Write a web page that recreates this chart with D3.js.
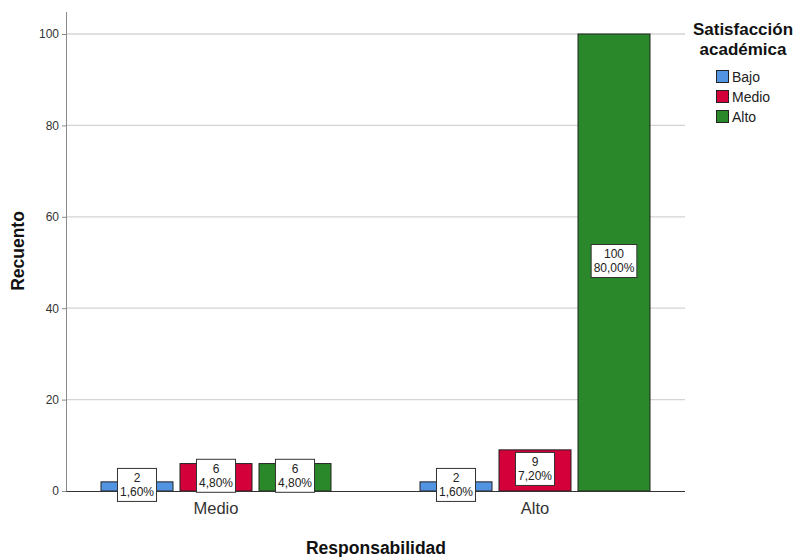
<!DOCTYPE html>
<html><head><meta charset="utf-8">
<script src="https://cdn.jsdelivr.net/npm/d3@7"></script>
<style>body{margin:0;background:#fff}svg{display:block}</style>
</head><body>
<svg id="c" width="798" height="557"></svg>
<script>
const categories = ["Medio", "Alto"];
const series = ["Bajo", "Medio", "Alto"];
const counts = {
  Bajo:  [2, 2],
  Medio: [6, 9],
  Alto:  [6, 100]
};
const percents = {
  Bajo:  ["1,60%", "1,60%"],
  Medio: ["4,80%", "7,20%"],
  Alto:  ["4,80%", "80,00%"]
};
const yTicks = [0, 20, 40, 60, 80, 100];
const colors = ["#5294e2", "#d3003a", "#2a882a"];

(function(){
const svg = d3.select("#c");
const font = "'Liberation Sans', Arial, sans-serif";
const pL = 67, pR = 685, pT = 34, pB = 491;

const y = d3.scaleLinear().domain([0, 100]).range([pB, pT]);
const x0 = d3.scaleBand().domain(categories).range([56.5, 694.5]).padding(0);
const x1 = d3.scaleBand().domain(series).range([-118.5, 118.5]).paddingInner(7/79).paddingOuter(0.0443);
const color = d3.scaleOrdinal().domain(series).range(colors);

// gridlines
svg.append("g").selectAll("line").data(yTicks.filter(d => d > 0)).join("line")
  .attr("x1", pL).attr("x2", pR)
  .attr("y1", d => y(d)).attr("y2", d => y(d))
  .attr("stroke", "#d4d4d4").attr("stroke-width", 1.3);

// y axis
const yAxis = svg.append("g").attr("transform", `translate(${pL},0)`)
  .call(d3.axisLeft(y).tickValues(yTicks).tickSize(5).tickPadding(3));
yAxis.select(".domain").attr("stroke", "#8a8a8a").attr("d", `M-0.5,${pT-22}V${pB}`);
yAxis.selectAll(".tick line").attr("stroke", "#8a8a8a");
yAxis.selectAll(".tick text").attr("font-family", font).attr("font-size", 12).attr("fill", "#333");

// bars
const data = [];
categories.forEach((c, i) => series.forEach(s => data.push({cat: c, ser: s, v: counts[s][i], p: percents[s][i]})));

svg.append("g").selectAll("rect.bar").data(data).join("rect").attr("class", "bar")
  .attr("x", d => x0(d.cat) + x0.bandwidth()/2 + x1(d.ser))
  .attr("width", x1.bandwidth())
  .attr("y", d => y(d.v))
  .attr("height", d => y(0) - y(d.v))
  .attr("fill", d => color(d.ser))
  .attr("stroke", "#222").attr("stroke-width", 1);

// x axis line
svg.append("line").attr("x1", pL - 0.5).attr("x2", pR).attr("y1", pB + 0.5).attr("y2", pB + 0.5)
  .attr("stroke", "#333").attr("stroke-width", 1);

// labels
const lab = svg.append("g").selectAll("g").data(data).join("g")
  .attr("transform", d => {
    const cx = x0(d.cat) + x0.bandwidth()/2 + x1(d.ser) + x1.bandwidth()/2;
    const cy = (y(d.v) + y(0)) / 2 - 1.5;
    return `translate(${cx},${cy})`;
  });
lab.each(function(d) {
  const el = d3.select(this);
  const t1 = el.append("text").text(d.v).attr("y", -3).attr("text-anchor", "middle")
    .attr("font-family", font).attr("font-size", 12).attr("fill", "#222");
  const t2 = el.append("text").text(d.p).attr("y", 11).attr("text-anchor", "middle")
    .attr("font-family", font).attr("font-size", 12).attr("fill", "#222");
  const w = Math.max(t1.node().getComputedTextLength(), t2.node().getComputedTextLength()) + 4;
  el.insert("rect", "text").attr("x", -w/2 - 0.5).attr("y", -16.5).attr("width", w + 1).attr("height", 33)
    .attr("fill", "#fff").attr("stroke", "#333").attr("stroke-width", 1);
});

// x tick labels
svg.append("g").selectAll("text").data(categories).join("text")
  .attr("x", d => x0(d) + x0.bandwidth()/2).attr("y", 514)
  .attr("text-anchor", "middle").attr("font-family", font).attr("font-size", 16.5).attr("fill", "#333")
  .text(d => d);

// axis titles
svg.append("text").attr("x", 376).attr("y", 554).attr("text-anchor", "middle")
  .attr("font-family", font).attr("font-size", 17.5).attr("font-weight", "bold").attr("fill", "#111")
  .text("Responsabilidad");
svg.append("text").attr("transform", "translate(24,251) rotate(-90)").attr("text-anchor", "middle")
  .attr("font-family", font).attr("font-size", 17.5).attr("font-weight", "bold").attr("fill", "#111")
  .text("Recuento");

// legend
const leg = svg.append("g");
leg.append("text").attr("x", 743).attr("y", 35).attr("text-anchor", "middle")
  .attr("font-family", font).attr("font-size", 17).attr("font-weight", "bold").attr("fill", "#111")
  .text("Satisfacción");
leg.append("text").attr("x", 743).attr("y", 54.5).attr("text-anchor", "middle")
  .attr("font-family", font).attr("font-size", 17).attr("font-weight", "bold").attr("fill", "#111")
  .text("académica");
const li = leg.selectAll("g.it").data(series).join("g").attr("class", "it")
  .attr("transform", (d, i) => `translate(716,${70 + i*20})`);
li.append("rect").attr("x", 0.5).attr("y", 0.5).attr("width", 12).attr("height", 12)
  .attr("fill", d => color(d)).attr("stroke", "#222");
li.append("text").attr("x", 16).attr("y", 12).attr("font-family", font).attr("font-size", 14).attr("fill", "#222")
  .text(d => d);
})();
</script>
</body></html>
